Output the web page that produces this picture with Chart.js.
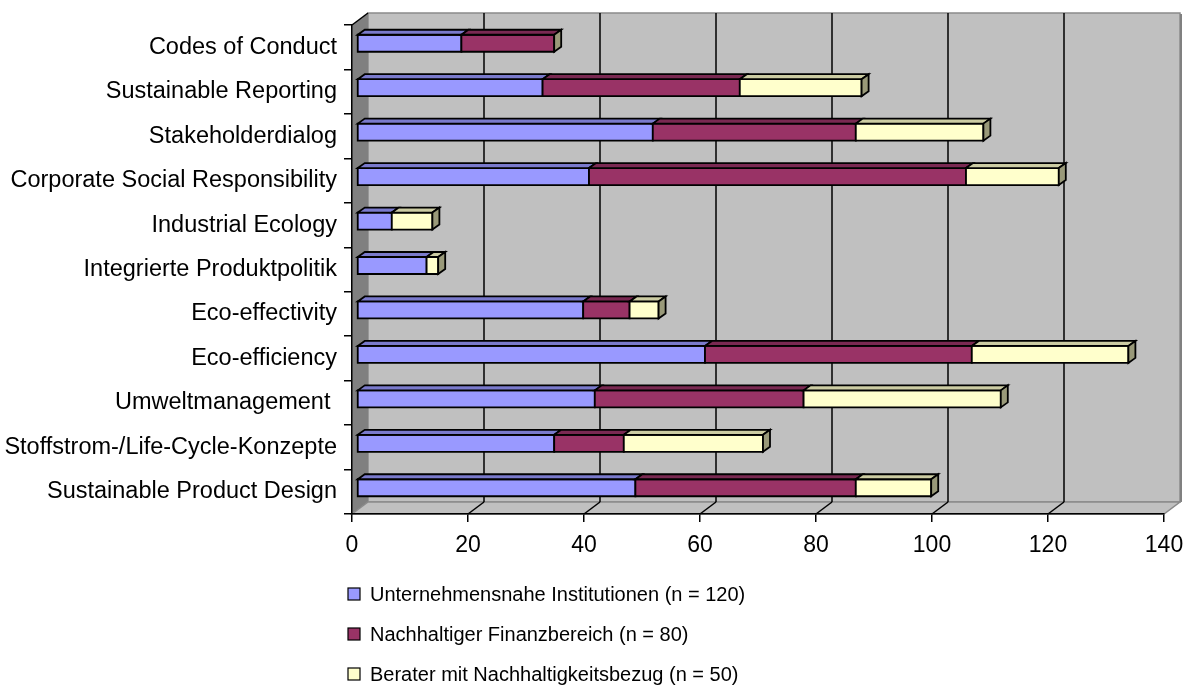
<!DOCTYPE html>
<html>
<head>
<meta charset="utf-8">
<script src="https://cdn.jsdelivr.net/npm/chart.js@4.4.1/dist/chart.umd.min.js"></script>
<style>
html,body{margin:0;padding:0;background:#fff;}
#wrap{width:1189px;height:686px;position:relative;}
</style>
</head>
<body>
<div id="wrap"><canvas id="c" width="1189" height="686"></canvas></div>
<script>
const categories = [
  "Codes of Conduct",
  "Sustainable Reporting",
  "Stakeholderdialog",
  "Corporate Social Responsibility",
  "Industrial Ecology",
  "Integrierte Produktpolitik",
  "Eco-effectivity",
  "Eco-efficiency",
  "Umweltmanagement ",
  "Stoffstrom-/Life-Cycle-Konzepte",
  "Sustainable Product Design"
];
const seriesNames = [
  "Unternehmensnahe Institutionen (n = 120)",
  "Nachhaltiger Finanzbereich (n = 80)",
  "Berater mit Nachhaltigkeitsbezug (n = 50)"
];
const unternehmensnahe = [18, 32, 51, 40, 6, 12, 39, 60, 41, 34, 48];
const finanzbereich    = [16, 34, 35, 65, 0, 0, 8, 46, 36, 12, 38];
const berater          = [0, 21, 22, 16, 7, 2, 5, 27, 34, 24, 13];
const xTickValues = [0, 20, 40, 60, 80, 100, 120, 140];

const frontColors = ['#9999FF', '#993366', '#FFFFCC'];
const topColors   = ['#7A7ACC', '#7A2952', '#CCCCA3'];
const sideColors  = ['#5C5C99', '#5C1F3D', '#999979'];

const FONT = '"Liberation Sans", Arial, sans-serif';
const WALL_DX = 16, WALL_DY = 12;
const BAR_OX = 5, BAR_OY = 4;
const BAR_DX = 7, BAR_DY = 5;

function poly(ctx, pts, fill, stroke, lw) {
  ctx.beginPath();
  ctx.moveTo(pts[0][0], pts[0][1]);
  for (let k = 1; k < pts.length; k++) ctx.lineTo(pts[k][0], pts[k][1]);
  ctx.closePath();
  if (fill) { ctx.fillStyle = fill; ctx.fill(); }
  if (stroke) { ctx.strokeStyle = stroke; ctx.lineWidth = lw || 1; ctx.stroke(); }
}

const excel3d = {
  id: 'excel3d',
  beforeDraw(chart) {
    const ctx = chart.ctx;
    const {left: L, right: R, top: T, bottom: B} = chart.chartArea;
    const xs = chart.scales.x;
    ctx.save();
    poly(ctx, [[L+WALL_DX, T-WALL_DY], [R+WALL_DX, T-WALL_DY], [R+WALL_DX, B-WALL_DY], [L+WALL_DX, B-WALL_DY]], '#C0C0C0', '#8A8A8A', 1.5);
    ctx.strokeStyle = '#808080'; ctx.lineWidth = 2;
    ctx.beginPath(); ctx.moveTo(R+WALL_DX+1, T-WALL_DY+1); ctx.lineTo(R+WALL_DX+1, B-WALL_DY); ctx.stroke();
    poly(ctx, [[L, T], [L+WALL_DX, T-WALL_DY], [L+WALL_DX, B-WALL_DY], [L, B]], '#808080', null);
    poly(ctx, [[L, B], [L+WALL_DX, B-WALL_DY], [R+WALL_DX, B-WALL_DY], [R, B]], '#C0C0C0', '#8A8A8A', 1.5);
    xs.ticks.forEach(t => {
      if (t.value <= xs.min || t.value >= xs.max) return;
      const px = xs.getPixelForValue(t.value);
      ctx.strokeStyle = '#000'; ctx.lineWidth = 1.5;
      ctx.beginPath();
      ctx.moveTo(px + WALL_DX, T - WALL_DY);
      ctx.lineTo(px + WALL_DX, B - WALL_DY);
      ctx.stroke();
      ctx.beginPath();
      ctx.moveTo(px, B);
      ctx.lineTo(px + WALL_DX, B - WALL_DY);
      ctx.stroke();
    });
    ctx.strokeStyle = '#000'; ctx.lineWidth = 1.5;
    ctx.beginPath(); ctx.moveTo(L, T); ctx.lineTo(L + WALL_DX, T - WALL_DY); ctx.stroke();
    ctx.restore();
  },
  beforeDatasetsDraw(chart) {
    const ctx = chart.ctx;
    const n = chart.data.labels.length;
    const dsCount = chart.data.datasets.length;
    ctx.save();
    ctx.lineJoin = 'miter';
    for (let j = 0; j < n; j++) {
      let endX = null, y0 = 0, y1 = 0;
      for (let i = 0; i < dsCount; i++) {
        const meta = chart.getDatasetMeta(i);
        if (meta.hidden) continue;
        const el = meta.data[j];
        const p = el.getProps(['x', 'y', 'base', 'height'], true);
        const x0 = Math.min(p.base, p.x) + BAR_OX;
        const x1 = Math.max(p.base, p.x) + BAR_OX;
        y0 = p.y - p.height / 2 - BAR_OY;
        y1 = p.y + p.height / 2 - BAR_OY;
        if (endX === null || x1 > endX) endX = x1;
        if (x1 - x0 < 0.5) continue;
        const ds = chart.data.datasets[i];
        poly(ctx, [[x0, y0], [x1, y0], [x1, y1], [x0, y1]], ds.backgroundColor, '#000', 1.8);
        poly(ctx, [[x0, y0], [x0 + BAR_DX, y0 - BAR_DY], [x1 + BAR_DX, y0 - BAR_DY], [x1, y0]], ds.topColor, '#000', 1.8);
      }
      if (endX !== null) {
        const last = chart.data.datasets[dsCount - 1];
        poly(ctx, [[endX, y0], [endX + BAR_DX, y0 - BAR_DY], [endX + BAR_DX, y1 - BAR_DY], [endX, y1]], last.sideColor, '#000', 1.8);
      }
    }
    ctx.restore();
    return false;
  },
  afterDraw(chart) {
    const ctx = chart.ctx;
    const {left: L, bottom: B} = chart.chartArea;
    ctx.save();
    ctx.font = '20px ' + FONT;
    ctx.textBaseline = 'middle';
    ctx.textAlign = 'left';
    chart.data.datasets.forEach((ds, i) => {
      const cy = B + 80 + i * 40;
      const bx = L - 4;
      ctx.fillStyle = ds.backgroundColor;
      ctx.fillRect(bx, cy - 6, 12, 12);
      ctx.strokeStyle = '#000'; ctx.lineWidth = 1.2;
      ctx.strokeRect(bx, cy - 6, 12, 12);
      ctx.fillStyle = '#000';
      ctx.fillText(ds.label, bx + 22, cy + 1);
    });
    ctx.restore();
  }
};

const seriesData = [unternehmensnahe, finanzbereich, berater];

new Chart(document.getElementById('c'), {
  type: 'bar',
  data: {
    labels: categories,
    datasets: seriesData.map((d, i) => ({
      label: seriesNames[i],
      data: d,
      backgroundColor: frontColors[i],
      topColor: topColors[i],
      sideColor: sideColors[i],
      borderColor: '#000',
      borderWidth: 1,
      barThickness: 17
    }))
  },
  options: {
    indexAxis: 'y',
    responsive: false,
    animation: false,
    devicePixelRatio: 1,
    layout: { padding: { left: 0, right: 25, top: 25, bottom: 122 } },
    plugins: {
      legend: { display: false },
      tooltip: { enabled: false }
    },
    scales: {
      x: {
        stacked: true,
        min: 0,
        max: 140,
        afterBuildTicks(s) { s.ticks = xTickValues.map(v => ({ value: v })); },
        ticks: { color: '#000', font: { size: 23, family: FONT }, padding: 10, maxRotation: 0 },
        grid: { drawOnChartArea: false, drawTicks: true, tickLength: 8, color: '#000', lineWidth: 1.5 },
        border: { display: true, color: '#000', width: 1.5 },
        afterFit(s) { s.height = 50; s.paddingLeft = 0; s.paddingRight = 0; }
      },
      y: {
        stacked: true,
        ticks: { color: '#000', font: { size: 23.5, family: FONT }, padding: 7, autoSkip: false },
        grid: { drawOnChartArea: false, drawTicks: true, tickLength: 8, color: '#000', lineWidth: 1.5, offset: true },
        border: { display: true, color: '#000', width: 1.5 },
        afterFit(s) { s.width = 352; s.paddingTop = 0; s.paddingBottom = 0; }
      }
    }
  },
  plugins: [excel3d]
});
</script>
</body>
</html>
